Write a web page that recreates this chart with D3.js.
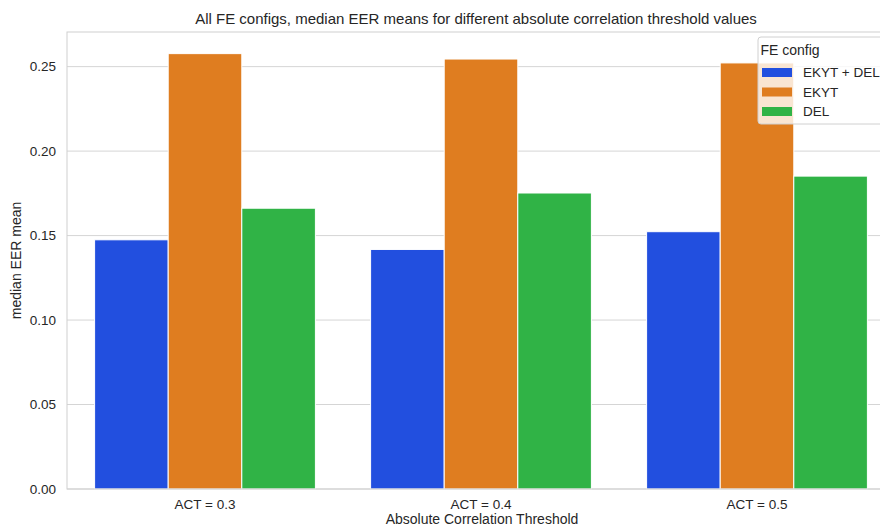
<!DOCTYPE html>
<html><head><meta charset="utf-8">
<script src="https://cdn.jsdelivr.net/npm/d3@7"></script>
<style>
html,body{margin:0;padding:0;background:#fff;}
svg text{font-family:"Liberation Sans",Arial,sans-serif;fill:#262626;}
</style></head>
<body><svg id="chart" width="880" height="528"></svg>
<script>
const categories = ["ACT = 0.3", "ACT = 0.4", "ACT = 0.5"];
const seriesNames = ["EKYT + DEL", "EKYT", "DEL"];
const ekytDel = [0.1475, 0.1418, 0.1523];
const ekyt = [0.2577, 0.2545, 0.2522];
const del = [0.1662, 0.1752, 0.1852];
const yTicks = [0, 0.05, 0.10, 0.15, 0.20, 0.25];
const colors = ["#224fdf", "#df7d20", "#30b346"];
const seriesValues = [ekytDel, ekyt, del];

const svg = d3.select("#chart");
const m = {left: 67, top: 32, right: 895, bottom: 489};

const x = d3.scaleBand().domain(categories).range([m.left, m.right]).paddingInner(0.2).paddingOuter(0.1);
const xs = d3.scaleBand().domain(seriesNames).range([0, x.bandwidth()]);
const y = d3.scaleLinear().domain([0, 0.2705]).range([m.bottom, m.top]);

// grid
svg.append("g").selectAll("line").data(yTicks).join("line")
  .attr("x1", m.left).attr("x2", m.right)
  .attr("y1", d => y(d)).attr("y2", d => y(d))
  .attr("stroke", "#d5d5d5").attr("stroke-width", 1);

// bars
const rows = [];
categories.forEach((c, i) => seriesNames.forEach((s, j) => rows.push({c, s, j, v: seriesValues[j][i]})));
svg.append("g").selectAll("rect").data(rows).join("rect")
  .attr("x", d => x(d.c) + xs(d.s))
  .attr("width", xs.bandwidth())
  .attr("y", d => y(d.v))
  .attr("height", d => y(0) - y(d.v))
  .attr("fill", d => colors[d.j])
  .attr("stroke", "#fff").attr("stroke-width", 1);

// spines
svg.append("rect").attr("x", m.left).attr("y", m.top).attr("width", m.right - m.left).attr("height", m.bottom - m.top)
  .attr("fill", "none").attr("stroke", "#d0d0d0").attr("stroke-width", 1);

const FS = 13.5;
// y axis
const yAxis = svg.append("g").attr("transform", `translate(${m.left},0)`)
  .call(d3.axisLeft(y).tickValues(yTicks).tickFormat(d3.format(".2f")).tickSize(0).tickPadding(11));
yAxis.select(".domain").remove();
yAxis.selectAll("text").attr("font-size", FS).attr("font-family", "Liberation Sans, Arial, sans-serif").attr("fill", "#262626");

// x axis
const xAxis = svg.append("g").attr("transform", `translate(0,${m.bottom})`)
  .call(d3.axisBottom(x).tickSize(0).tickPadding(10));
xAxis.select(".domain").remove();
xAxis.selectAll("text").attr("font-size", FS).attr("font-family", "Liberation Sans, Arial, sans-serif").attr("fill", "#262626");

// title & labels
svg.append("text").attr("x", 476).attr("y", 24).attr("text-anchor", "middle").attr("font-size", 15)
  .text("All FE configs, median EER means for different absolute correlation threshold values");
svg.append("text").attr("x", 482).attr("y", 524).attr("text-anchor", "middle").attr("font-size", 14)
  .text("Absolute Correlation Threshold");
svg.append("text").attr("transform", `translate(21,${(m.top + m.bottom) / 2}) rotate(-90)`)
  .attr("text-anchor", "middle").attr("font-size", 14).text("median EER mean");

// legend
const lg = svg.append("g").attr("transform", "translate(758,37)");
lg.append("rect").attr("x", 0).attr("y", 0).attr("width", 140).attr("height", 87).attr("rx", 3)
  .attr("fill", "#fff").attr("fill-opacity", 0.8).attr("stroke", "#d0d0d0");
lg.append("text").attr("x", 32).attr("y", 18).attr("text-anchor", "middle").attr("font-size", 14).text("FE config");
seriesNames.forEach((s, j) => {
  const yy = 35 + j * 19.5;
  lg.append("rect").attr("x", 4).attr("y", yy - 4).attr("width", 30).attr("height", 9).attr("fill", colors[j]);
  lg.append("text").attr("x", 45).attr("y", yy + 5).attr("font-size", FS).text(s);
});
</script></body></html>
